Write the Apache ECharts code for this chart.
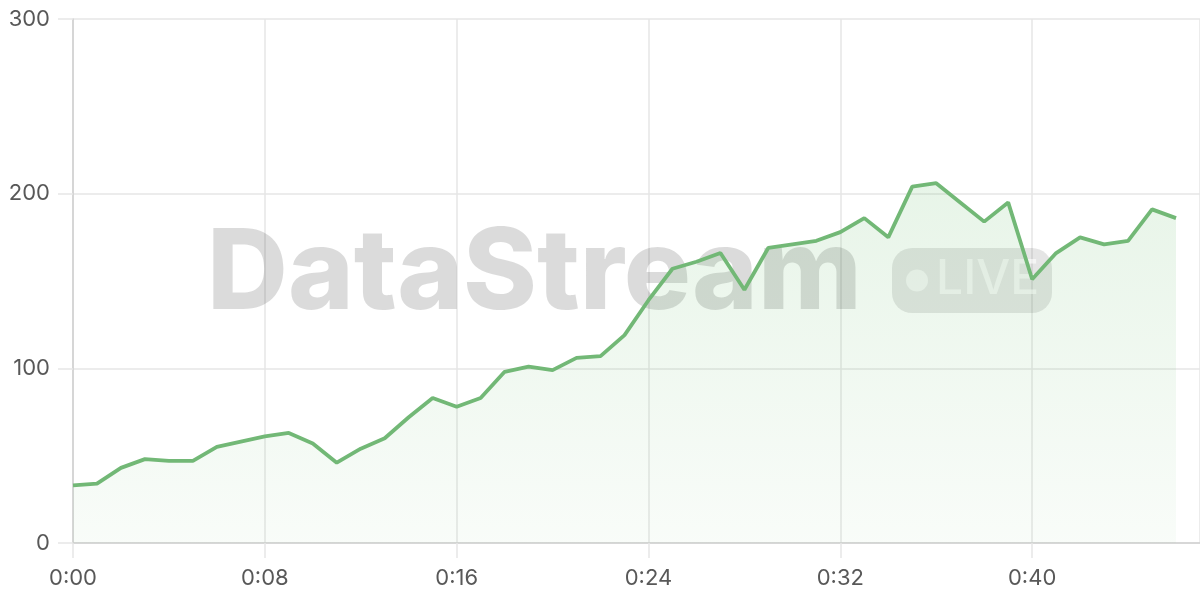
<!DOCTYPE html>
<html>
<head>
<meta charset="utf-8">
<script src="https://cdn.jsdelivr.net/npm/echarts@6/dist/echarts.min.js"></script>
<style>
  html, body { margin: 0; padding: 0; background: #ffffff; }
  #chart { width: 1200px; height: 600px; }
</style>
</head>
<body>
<div id="chart"></div>
<script>
// minutes since start
const minutes = [0, 1, 2, 3, 4, 5, 6, 7, 8, 9, 10, 11, 12, 13, 14, 15, 16, 17, 18, 19, 20, 21, 22, 23,
  24, 25, 26, 27, 28, 29, 30, 31, 32, 33, 34, 35, 36, 37, 38, 39, 40, 41, 42, 43, 44, 45, 46];
// streamed values
const values = [33, 34, 43, 48, 47, 47, 55, 58, 61, 63, 57, 46, 54, 60, 72, 83, 78, 83, 98, 101, 99, 106, 107, 119,
  139, 157, 161, 166, 145, 169, 171, 173, 178, 186, 175, 204, 206, 195, 184, 195, 151, 166, 175, 171, 173, 191, 186];
const xTicks = [0, 8, 16, 24, 32, 40];
const yTicks = [0, 100, 200, 300];
const watermarkText = 'DataStream';
const badgeText = 'LIVE';

const seriesData = minutes.map((m, i) => [m, values[i]]);
const pad = n => (n < 10 ? '0' + n : '' + n);

const chart = echarts.init(document.getElementById('chart'));
chart.setOption({
  animation: false,
  backgroundColor: '#ffffff',
  grid: { left: 73, right: 0, top: 19, bottom: 57, containLabel: false },
  xAxis: {
    type: 'value',
    min: 0, max: 47, interval: 8,
    axisLine: { show: true, lineStyle: { color: '#cfcfcf', width: 1.5 } },
    axisTick: { show: true, length: 15, lineStyle: { color: '#e6e6e6', width: 1.5 } },
    splitLine: { show: true, lineStyle: { color: '#e6e6e6', width: 1.5 } },
    axisLabel: {
      margin: 24, color: '#585858', fontSize: 22, fontFamily: 'Inter',
      showMaxLabel: false,
      formatter: v => (xTicks.indexOf(v) >= 0 ? '0:' + pad(v) : '')
    }
  },
  yAxis: {
    type: 'value',
    min: 0, max: 300, interval: 100,
    axisLine: { show: true, lineStyle: { color: '#cfcfcf', width: 1.5 } },
    axisTick: { show: true, length: 15, lineStyle: { color: '#e6e6e6', width: 1.5 } },
    splitLine: { show: true, lineStyle: { color: '#e6e6e6', width: 1.5 } },
    axisLabel: {
      margin: 23, color: '#585858', fontSize: 22, fontFamily: 'Inter',
      formatter: v => (yTicks.indexOf(v) >= 0 ? String(v) : '')
    }
  },
  graphic: [
    {
      type: 'text', z: 1, silent: true,
      style: {
        x: 207, y: 275, text: watermarkText,
        font: '800 112px Inter',
        fill: 'rgba(0,0,0,0.14)',
        textAlign: 'left', textVerticalAlign: 'middle'
      }
    },
    {
      type: 'rect', z: 1, silent: true,
      shape: { x: 892, y: 248, width: 160, height: 65, r: 20 },
      style: { fill: 'rgba(0,0,0,0.1)' }
    },
    {
      type: 'circle', z: 1, silent: true,
      shape: { cx: 917, cy: 280.5, r: 11 },
      style: { fill: 'rgba(255,255,255,0.6)' }
    },
    {
      type: 'text', z: 1, silent: true,
      style: {
        x: 936, y: 280, text: badgeText,
        font: '500 48px Inter',
        fill: 'rgba(255,255,255,0.6)',
        textAlign: 'left', textVerticalAlign: 'middle'
      }
    }
  ],
  series: [{
    type: 'line',
    data: seriesData,
    showSymbol: false,
    symbol: 'none',
    z: 3,
    lineStyle: { color: '#72b876', width: 3.8 },
    areaStyle: {
      color: new echarts.graphic.LinearGradient(0, 0, 0, 1, [
        { offset: 0, color: 'rgba(102,187,106,0.22)' },
        { offset: 1, color: 'rgba(102,187,106,0.06)' }
      ])
    }
  }]
});
</script>
</body>
</html>
